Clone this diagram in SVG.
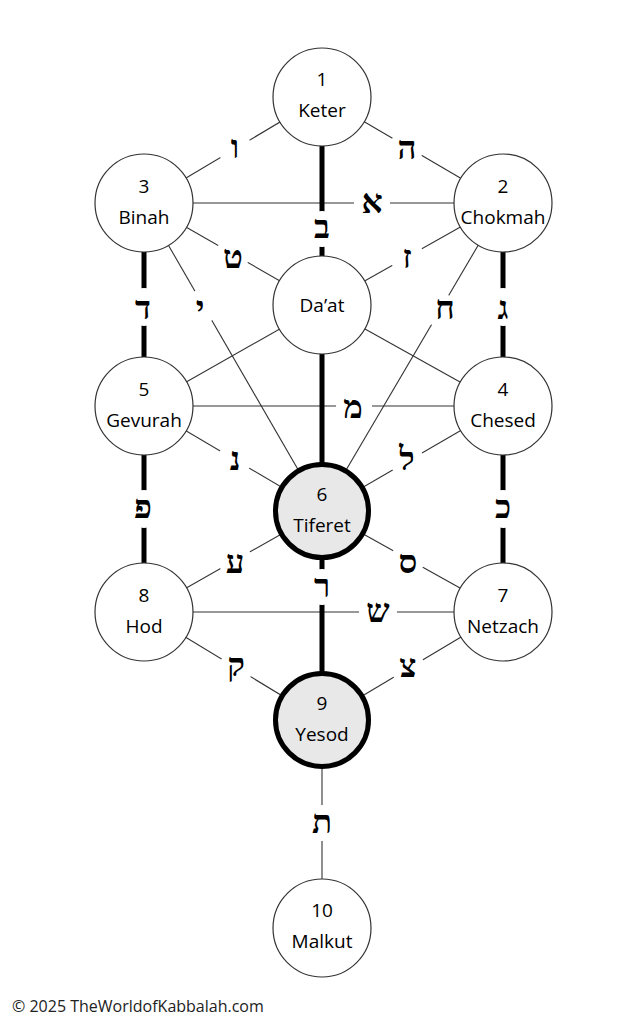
<svg xmlns="http://www.w3.org/2000/svg" width="633" height="1024" viewBox="0 0 633 1024">
<style>
.thin{stroke:#333;stroke-width:1.1;fill:none}
.thick{stroke:#000;stroke-width:5;fill:none}
.node{fill:#fff;stroke:#333;stroke-width:1.2}
.hl{fill:#e8e8e8;stroke:#000;stroke-width:5}
.t{font-family:"Open Sans","Noto Sans",sans-serif;font-size:19px;fill:#000;text-anchor:middle}
.he{font-family:"Liberation Serif","DejaVu Serif","DejaVu Sans",serif;font-size:33px;font-weight:bold;fill:#000;text-anchor:middle}
.gap{fill:#fff}
.copy{font-family:"Open Sans","Noto Sans",sans-serif;font-size:16px;fill:#222}
</style>
<rect width="633" height="1024" fill="#fff"/>
<g id="connectors">
<line class="thin" x1="322" y1="97" x2="144" y2="203"/>
<line class="thin" x1="322" y1="97" x2="503" y2="203"/>
<line class="thin" x1="144" y1="203" x2="503" y2="203"/>
<line class="thin" x1="144" y1="203" x2="322" y2="305"/>
<line class="thin" x1="503" y1="203" x2="322" y2="305"/>
<line class="thin" x1="144" y1="203" x2="322" y2="511"/>
<line class="thin" x1="503" y1="203" x2="322" y2="511"/>
<line class="thin" x1="322" y1="305" x2="144" y2="406"/>
<line class="thin" x1="322" y1="305" x2="503" y2="406"/>
<line class="thin" x1="144" y1="406" x2="503" y2="406"/>
<line class="thin" x1="144" y1="406" x2="322" y2="511"/>
<line class="thin" x1="503" y1="406" x2="322" y2="511"/>
<line class="thin" x1="322" y1="511" x2="144" y2="612"/>
<line class="thin" x1="322" y1="511" x2="503" y2="612"/>
<line class="thin" x1="144" y1="612" x2="503" y2="612"/>
<line class="thin" x1="144" y1="612" x2="322" y2="720"/>
<line class="thin" x1="503" y1="612" x2="322" y2="720"/>
<line class="thin" x1="322" y1="720" x2="322" y2="928"/>
<line class="thick" x1="322" y1="97" x2="322" y2="305"/>
<line class="thick" x1="322" y1="305" x2="322" y2="511"/>
<line class="thick" x1="322" y1="511" x2="322" y2="720"/>
<line class="thick" x1="144" y1="203" x2="144" y2="406"/>
<line class="thick" x1="144" y1="406" x2="144" y2="612"/>
<line class="thick" x1="503" y1="203" x2="503" y2="406"/>
<line class="thick" x1="503" y1="406" x2="503" y2="612"/>
<g id="letter-gaps">
<circle class="gap" cx="235" cy="149" r="17"/>
<circle class="gap" cx="407" cy="147" r="17"/>
<circle class="gap" cx="372" cy="203" r="18"/>
<circle class="gap" cx="322" cy="229" r="18"/>
<circle class="gap" cx="233" cy="254" r="17"/>
<circle class="gap" cx="407" cy="257" r="17"/>
<circle class="gap" cx="144" cy="307" r="19"/>
<circle class="gap" cx="203" cy="306" r="17"/>
<circle class="gap" cx="440" cy="310" r="17"/>
<circle class="gap" cx="503" cy="307" r="19"/>
<circle class="gap" cx="354" cy="406" r="18"/>
<circle class="gap" cx="235" cy="459" r="17"/>
<circle class="gap" cx="407" cy="461" r="17"/>
<circle class="gap" cx="144" cy="509" r="19"/>
<circle class="gap" cx="503" cy="509" r="19"/>
<circle class="gap" cx="235" cy="560" r="17"/>
<circle class="gap" cx="408" cy="559" r="17"/>
<circle class="gap" cx="322" cy="587" r="18"/>
<circle class="gap" cx="378" cy="612" r="19"/>
<circle class="gap" cx="236" cy="668" r="17"/>
<circle class="gap" cx="408" cy="668" r="17"/>
<circle class="gap" cx="322" cy="823" r="18"/>
</g>
<g id="letters">
<text class="he" x="235" y="158">ו</text>
<text class="he" x="407" y="159">ה</text>
<text class="he" x="372" y="213">א</text>
<text class="he" x="322" y="238">ב</text>
<text class="he" x="233" y="268">ט</text>
<text class="he" x="407" y="268">ז</text>
<text class="he" x="143" y="319">ד</text>
<text class="he" x="200" y="319">י</text>
<text class="he" x="445" y="319">ח</text>
<text class="he" x="503" y="319">ג</text>
<text class="he" x="353" y="418">מ</text>
<text class="he" x="235" y="470">נ</text>
<text class="he" x="407" y="470">ל</text>
<text class="he" x="143" y="518">פ</text>
<text class="he" x="503" y="518">כ</text>
<text class="he" x="235" y="573">ע</text>
<text class="he" x="408" y="573">ס</text>
<text class="he" x="322" y="597">ר</text>
<text class="he" x="378" y="622">ש</text>
<text class="he" x="236" y="676">ק</text>
<text class="he" x="408" y="677">צ</text>
<text class="he" x="322" y="833">ת</text>
</g>
</g>
<g id="keter"><circle class="node" cx="322" cy="97" r="49"/><text class="t" x="322" y="86">1</text><text class="t" x="322" y="117">Keter</text></g>
<g id="binah"><circle class="node" cx="144" cy="203" r="49"/><text class="t" x="144" y="193">3</text><text class="t" x="144" y="224">Binah</text></g>
<g id="chokmah"><circle class="node" cx="503" cy="203" r="49"/><text class="t" x="503" y="193">2</text><text class="t" x="503" y="224">Chokmah</text></g>
<g id="daat"><circle class="node" cx="322" cy="305" r="49"/><text class="t" x="322" y="312">Da’at</text></g>
<g id="gevurah"><circle class="node" cx="144" cy="406" r="49"/><text class="t" x="144" y="396">5</text><text class="t" x="144" y="427">Gevurah</text></g>
<g id="chesed"><circle class="node" cx="503" cy="406" r="49"/><text class="t" x="503" y="396">4</text><text class="t" x="503" y="427">Chesed</text></g>
<g id="tiferet"><circle class="hl" cx="322" cy="511" r="46.5"/><text class="t" x="322" y="501">6</text><text class="t" x="322" y="532">Tiferet</text></g>
<g id="hod"><circle class="node" cx="144" cy="612" r="49"/><text class="t" x="144" y="602">8</text><text class="t" x="144" y="633">Hod</text></g>
<g id="netzach"><circle class="node" cx="503" cy="612" r="49"/><text class="t" x="503" y="602">7</text><text class="t" x="503" y="633">Netzach</text></g>
<g id="yesod"><circle class="hl" cx="322" cy="720" r="46.5"/><text class="t" x="322" y="710">9</text><text class="t" x="322" y="741">Yesod</text></g>
<g id="malkut"><circle class="node" cx="322" cy="928" r="49"/><text class="t" x="322" y="917">10</text><text class="t" x="322" y="948">Malkut</text></g>
<text class="copy" x="12" y="1012">© 2025 TheWorldofKabbalah.com</text>
</svg>
